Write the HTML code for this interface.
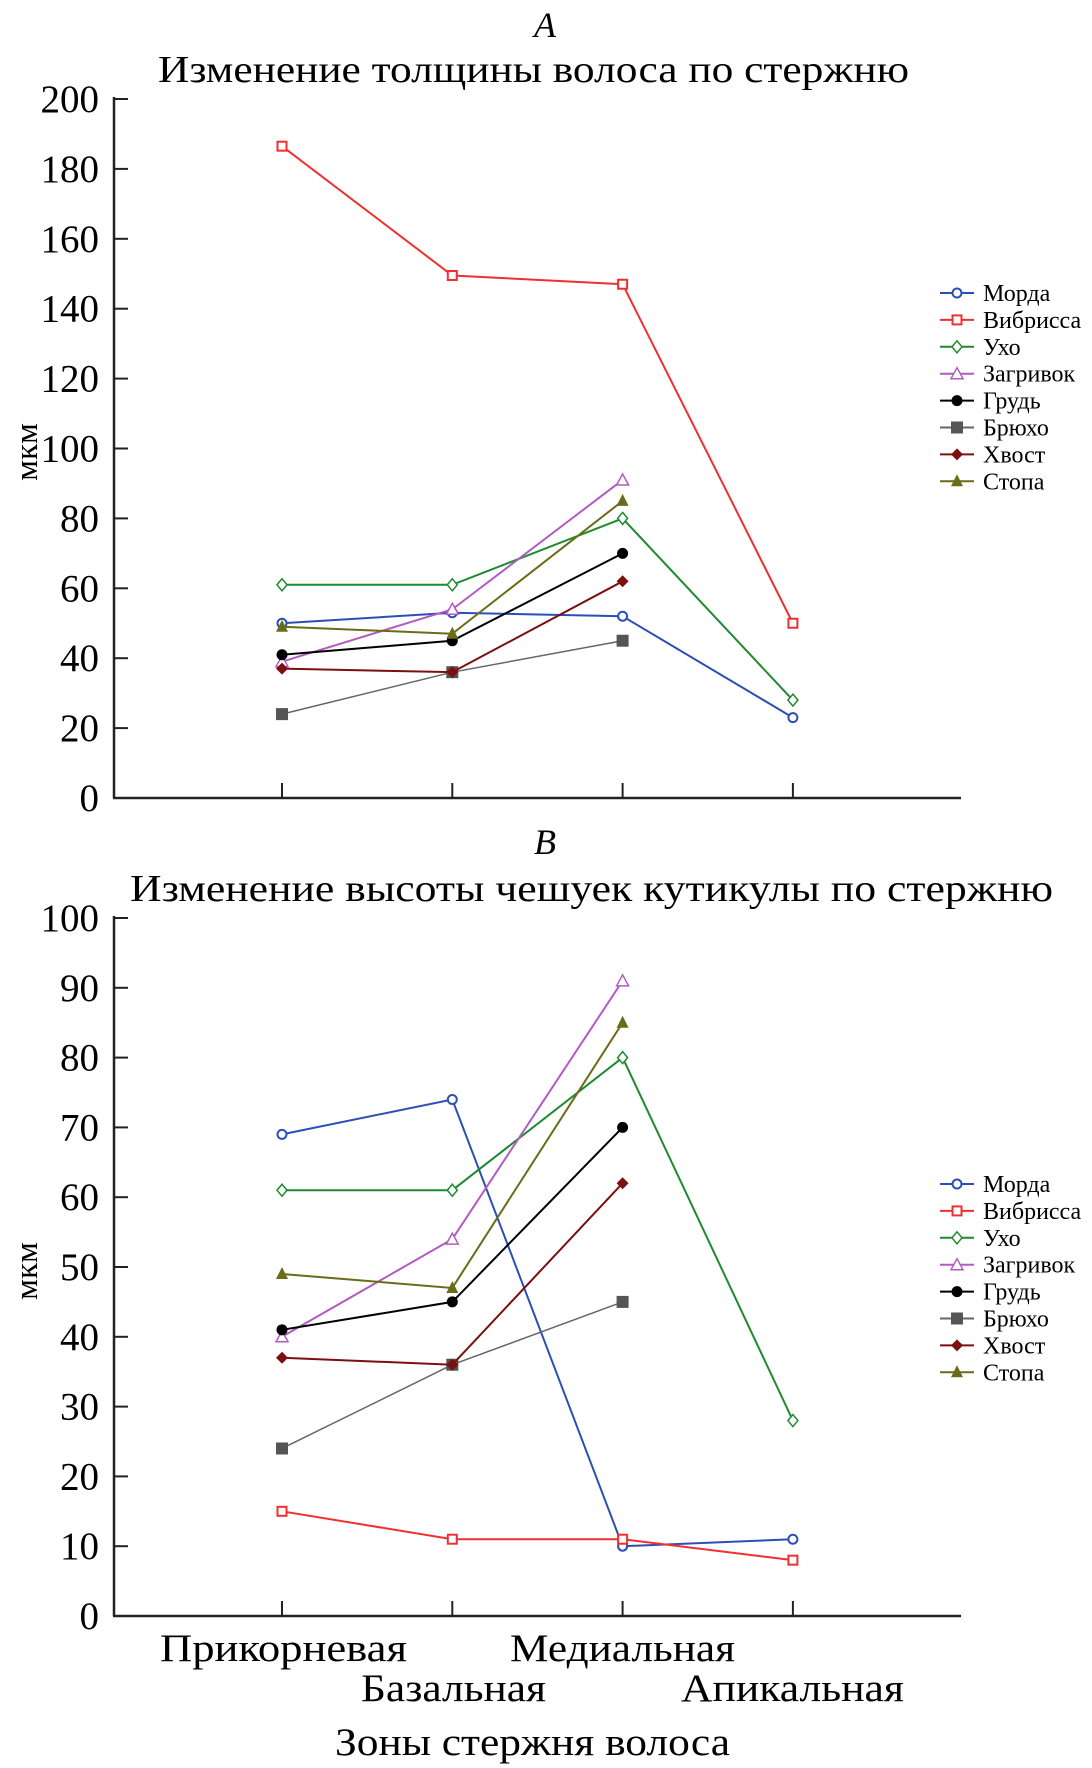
<!DOCTYPE html>
<html><head><meta charset="utf-8"><style>
body{margin:0;background:#fff;}
svg{display:block;font-family:"Liberation Serif",serif;}
</style></head><body>
<svg id="s" width="1092" height="1768" viewBox="0 0 1092 1768" xmlns="http://www.w3.org/2000/svg">
<text x="545" y="37" font-size="36" font-style="italic" text-anchor="middle">A</text>
<text x="158" y="82" font-size="38" textLength="751" lengthAdjust="spacingAndGlyphs">Изменение толщины волоса по стержню</text>
<text x="545" y="854" font-size="36" font-style="italic" text-anchor="middle">B</text>
<text x="130" y="901" font-size="38" textLength="923" lengthAdjust="spacingAndGlyphs">Изменение высоты чешуек  кутикулы по стержню</text>
<text x="160" y="1661" font-size="39" textLength="247" lengthAdjust="spacingAndGlyphs">Прикорневая</text>
<text x="361" y="1701" font-size="39" textLength="185" lengthAdjust="spacingAndGlyphs">Базальная</text>
<text x="510" y="1661" font-size="39" textLength="225" lengthAdjust="spacingAndGlyphs">Медиальная</text>
<text x="681" y="1701" font-size="39" textLength="223" lengthAdjust="spacingAndGlyphs">Апикальная</text>
<text x="335" y="1755" font-size="39" textLength="395" lengthAdjust="spacingAndGlyphs">Зоны стержня волоса</text>
</svg>
<script>
const names=["Морда","Вибрисса","Ухо","Загривок","Грудь","Брюхо","Хвост","Стопа"];
const colors=["#2d4fb5","#f03030","#1f8a30","#b05cc0","#000000","#666666","#7a1010","#6b6b1a"];
const markers=["circle","square","diamond","triangle","dot","fsquare","fdiamond","ftriangle"];
const zones=[0,1,2,3];
const ticksA=[0,20,40,60,80,100,120,140,160,180,200];
const ticksB=[0,10,20,30,40,50,60,70,80,90,100];
const dataA=[[50,53,52,23],[186.5,149.5,147,50],[61,61,80,28],[39,54,91,null],[41,45,70,null],[24,36,45,null],[37,36,62,null],[49,47,85,null]];
const dataB=[[69,74,10,11],[15,11,11,8],[61,61,80,28],[40,54,91,null],[41,45,70,null],[24,36,45,null],[37,36,62,null],[49,47,85,null]];
const svg=document.getElementById('s');
const NS='http://www.w3.org/2000/svg';
function mk(t,a){const e=document.createElementNS(NS,t);for(const k in a)e.setAttribute(k,a[k]);svg.appendChild(e);return e;}
const xs=i=>282+i*170.3;
function marker(kind,x,y,c){
 let e;
 if(kind==='circle')e=mk('circle',{cx:x,cy:y,r:4.5,fill:'#fff',stroke:c,'stroke-width':2});
 else if(kind==='dot')e=mk('circle',{cx:x,cy:y,r:5.5,fill:c});
 else if(kind==='square')e=mk('rect',{x:x-4.5,y:y-4.5,width:9,height:9,fill:'#fff',stroke:c,'stroke-width':2});
 else if(kind==='fsquare')e=mk('rect',{x:x-5.5,y:y-5.5,width:11,height:11,fill:'#555',stroke:'#555'});
 else if(kind==='diamond')e=mk('polygon',{points:`${x},${y-6} ${x+5},${y} ${x},${y+6} ${x-5},${y}`,fill:'#fff',stroke:c,'stroke-width':1.5});
 else if(kind==='fdiamond')e=mk('polygon',{points:`${x},${y-6} ${x+6},${y} ${x},${y+6} ${x-6},${y}`,fill:c});
 else if(kind==='triangle')e=mk('polygon',{points:`${x},${y-6} ${x+6},${y+5} ${x-6},${y+5}`,fill:'#fff',stroke:c,'stroke-width':1.5});
 else e=mk('polygon',{points:`${x},${y-7} ${x+6},${y+5} ${x-6},${y+5}`,fill:c});
 
 
}
function chart(id,data,ticks,y0,yTop,ymax,legY,labY){
 const ys=v=>y0-(v/ymax)*(y0-yTop);
 let a=mk('line',{x1:114,y1:yTop-2,x2:114,y2:y0,stroke:'#222','stroke-width':2.5});
 
 
 a=mk('line',{x1:113,y1:y0,x2:961,y2:y0,stroke:'#222','stroke-width':2.5});
 
 
 ticks.forEach(t=>{
  const y=ys(t);
  const l=mk('line',{x1:114,y1:y,x2:128,y2:y,stroke:'#222','stroke-width':2});
  
  
  const tx=mk('text',{x:99,y:y+13,'font-size':39,'text-anchor':'end'});tx.textContent=t;
  
  
 });
 zones.forEach(i=>{const l=mk('line',{x1:xs(i),y1:y0,x2:xs(i),y2:y0-15,stroke:'#222','stroke-width':2});
  
  });
 const yl=mk('text',{x:0,y:0,'font-size':33,'text-anchor':'middle',transform:`translate(37,${labY}) rotate(-90)`});yl.textContent='мкм';
 
 
 data.forEach((ser,si)=>{
  const pts=[];ser.forEach((v,i)=>{if(v!==null)pts.push([xs(i),ys(v)]);});
  const pl=mk('polyline',{points:pts.map(p=>p.join(',')).join(' '),fill:'none',stroke:colors[si],'stroke-width':si===5?1.5:2});
  
  
  pts.forEach(p=>marker(markers[si],p[0],p[1],colors[si]));
  const ly=legY+si*26.9;
  const ll=mk('line',{x1:940,y1:ly,x2:974,y2:ly,stroke:colors[si],'stroke-width':2});
  
  
  marker(markers[si],957,ly,colors[si]);
  const lt=mk('text',{x:983,y:ly+8,'font-size':24});lt.textContent=names[si];
  
  
 });
}
chart('chart-a',dataA,ticksA,798,99,200,293,452);
chart('chart-b',dataB,ticksB,1616,918,100,1184,1271);
</script>
</body></html>
